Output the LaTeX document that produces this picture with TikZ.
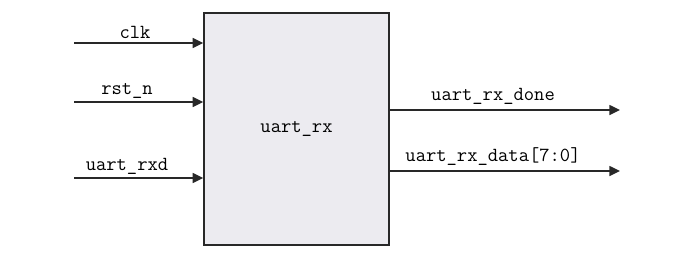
\documentclass[tikz,border=0pt]{standalone}
\usepackage{fontspec}
\usetikzlibrary{arrows.meta,positioning}
\definecolor{mgray}{RGB}{236,235,240}
\definecolor{mline}{RGB}{40,40,40}

\begin{document}
\begin{tikzpicture}[
    x=0.75pt, y=-0.75pt,
    blk/.style={draw=mline, line width=1.1pt, fill=mgray, minimum width=138.75pt,
                minimum height=174pt, font=\ttfamily\fontsize{15}{17}\selectfont},
    sig/.style={font=\ttfamily\fontsize{15}{17}\selectfont, inner sep=0pt},
    arr/.style={-{Triangle[length=8pt, width=7.5pt]}, mline, line width=1.1pt},
  ]
    \useasboundingbox (0,0) rectangle (697,255);
    \node[blk] (rx) at (296.5,129) {uart\_rx};

    \coordinate (clk) at (74,43);
    \coordinate (rst) at (74,102);
    \coordinate (rxd) at (74,178);
    \coordinate (done) at (620,110);
    \coordinate (data) at (620,171);

    \node[sig] (lclk) at (135,32)  {clk};
    \node[sig] (lrst) at (127,91)  {rst\_n};
    \node[sig] (lrxd) at (127,166) {uart\_rxd};
    \node[sig] (ldone) at (493,96) {uart\_rx\_done};
    \node[sig] (ldata) at (493,157) {uart\_rx\_data[7:0]};

    \draw[arr] (clk) -- (clk -| rx.west);
    \draw[arr] (rst) -- (rst -| rx.west);
    \draw[arr] (rxd) -- (rxd -| rx.west);
    \draw[arr] (done -| rx.east) -- (done);
    \draw[arr] (data -| rx.east) -- (data);
  \end{tikzpicture}
\end{document}
